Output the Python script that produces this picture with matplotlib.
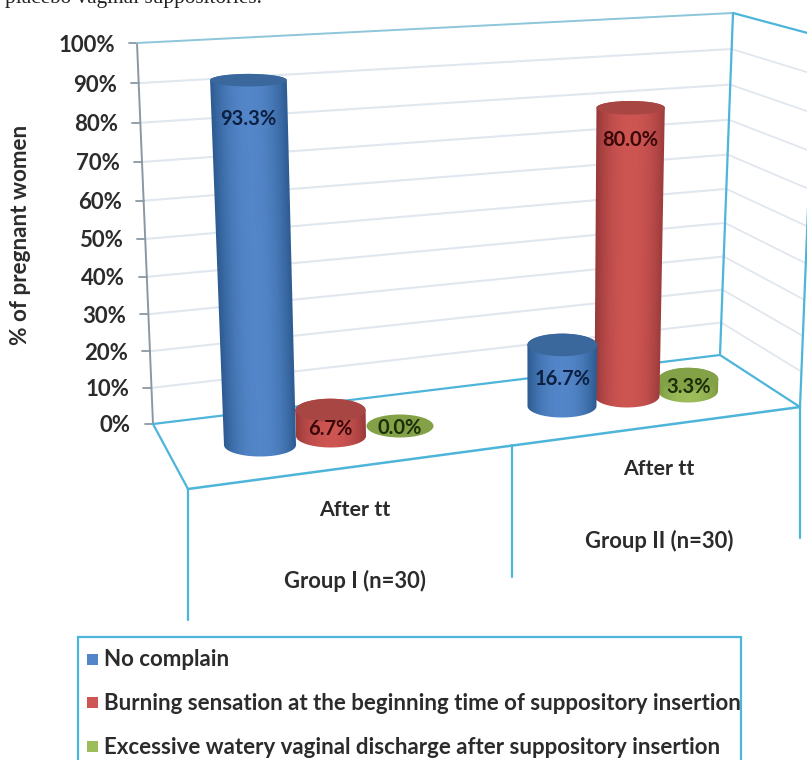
"""3D-style cylinder chart of complaints after treatment in two groups."""

import matplotlib

matplotlib.use("Agg")
import matplotlib.pyplot as plt
import numpy as np
from matplotlib.colors import LinearSegmentedColormap
from matplotlib.patches import Ellipse, Polygon, Rectangle

plt.rcParams["font.family"] = ["Lato", "DejaVu Sans"]

GROUPS = ["Group I (n=30)", "Group II (n=30)"]
TIMEPOINTS = ["After tt", "After tt"]
SERIES = [
    "No complain",
    "Burning sensation at the beginning time of suppository insertion",
    "Excessive watery vaginal discharge after suppository insertion",
]
NO_COMPLAIN = [93.3, 16.7]
BURNING = [6.7, 80.0]
DISCHARGE = [0.0, 3.3]
TICKS = [0, 10, 20, 30, 40, 50, 60, 70, 80, 90, 100]

WALL = "#4db4da"
GRID = "#e1e7ef"
TEXT = "#2b2b2b"

# back wall, floor and side wall corners in figure pixels
BACK_LEFT_TOP = (137, 43)
BACK_LEFT_BOT = (153, 424)
BACK_RIGHT_TOP = (733, 13)
BACK_RIGHT_BOT = (720, 355)
SIDE_TOP = (815, 35)
FRONT_RIGHT = (800, 407)
FRONT_LEFT = (188, 489)

# cylinder base centre (x, y), base x radius and label drop below the top centre
LAYOUT = {
    (0, 0): (260, 445, 36, 39),
    (0, 1): (331, 436, 35, 19),
    (0, 2): (400, 426, 33.5, 2),
    (1, 0): (562, 406, 34.5, 34),
    (1, 1): (627, 396, 32.5, 32),
    (1, 2): (688, 391, 30, 8),
}
PALETTE = [
    {"edge": "#2c5a90", "mid": "#5386c9", "top": "#3a689c", "label": "#0c1f40"},
    {"edge": "#99393a", "mid": "#cd5552", "top": "#a84644", "label": "#3a0808"},
    {"edge": "#7b983f", "mid": "#9dbd5b", "top": "#83a146", "label": "#1c2e08"},
]


def tick_frac(v):
    # the value axis opens up slightly towards the top
    t = v / 100.0
    return 0.944 * t / (1 - 0.056 * t)


def lerp(a, b, f):
    return (a[0] + (b[0] - a[0]) * f, a[1] + (b[1] - a[1]) * f)


def draw_line(ax, a, b, color=WALL, lw=1.6, z=2):
    ax.plot([a[0], b[0]], [a[1], b[1]], color=color, lw=lw, solid_capstyle="round", zorder=z)


def draw_cylinder(ax, value, base_x, base_y, rx, colors, z):
    # pixels per percent shrink towards the back right of the floor
    scale = 3.91 - (base_x - 260) * 0.31 / 370
    h = value * scale
    lean = -0.0446 + (base_x - 153) / 580 * 0.07
    top_x, top_y = base_x + lean * h, base_y - h
    top_rx = rx * (1 + 0.00018 * h)
    base_ry = min(11.5, 6.3 + (base_y - 80) * 5 / 265)
    top_ry = min(11.5, 6.3 + (top_y - 80) * 5 / 265)

    if h > 0:
        theta = np.linspace(0, np.pi, 60)
        lower_x = base_x - rx * np.cos(theta)
        lower_y = base_y + base_ry * np.sin(theta)
        upper_x = top_x + top_rx * np.cos(theta)
        upper_y = top_y - top_ry * np.sin(theta)
        outline = np.column_stack([np.r_[lower_x, upper_x], np.r_[lower_y, upper_y]])
        body = Polygon(outline, closed=True, transform=ax.transData, facecolor="none", edgecolor="none")
        ax.add_patch(body)

        x0, x1 = outline[:, 0].min() - 1, outline[:, 0].max() + 1
        y0, y1 = outline[:, 1].min() - 1, outline[:, 1].max() + 1
        xx, yy = np.meshgrid(np.arange(x0, x1, 0.5), np.arange(y0, y1, 0.5))
        f = np.clip((base_y - yy) / h, 0, 1)
        u = (xx - (base_x + (top_x - base_x) * f)) / (rx + (top_rx - rx) * f)
        cmap = LinearSegmentedColormap.from_list("body", [colors["mid"], colors["edge"]])
        img = ax.imshow(
            np.abs(u) ** 2.2,
            cmap=cmap,
            vmin=0,
            vmax=1,
            extent=(x0, x1, y1, y0),
            origin="upper",
            aspect="auto",
            interpolation="bilinear",
            zorder=z,
        )
        img.set_clip_path(body)

    ax.add_patch(
        Ellipse((top_x, top_y), 2 * top_rx, 2 * top_ry, facecolor=colors["top"], edgecolor="none", zorder=z + 0.1)
    )
    return top_x, top_y


fig = plt.figure(figsize=(8.07, 7.60), dpi=100, facecolor="white")
ax = fig.add_axes([0, 0, 1, 1])

# gridlines on the back wall and the side wall
for v in TICKS:
    f = tick_frac(v)
    left = lerp(BACK_LEFT_BOT, BACK_LEFT_TOP, f)
    right = lerp(BACK_RIGHT_BOT, BACK_RIGHT_TOP, f)
    side = lerp(FRONT_RIGHT, SIDE_TOP, f)
    if 0 < v < 100:
        draw_line(ax, left, right, color=GRID, lw=1.5, z=1)
        draw_line(ax, right, side, color=GRID, lw=1.3, z=1)
    draw_line(ax, (left[0] - 8, left[1]), left, color="#8b98a3", lw=1.3)
    ax.text(left[0] - 22, left[1] + 2, f"{v}%", ha="right", va="center", fontsize=16,
            fontweight="bold", color=TEXT)

# wall and floor outlines
draw_line(ax, BACK_LEFT_TOP, BACK_LEFT_BOT, color="#8b98a3", lw=1.4)
draw_line(ax, BACK_LEFT_TOP, BACK_RIGHT_TOP, color="#8ec6da", lw=1.4)
draw_line(ax, BACK_RIGHT_TOP, BACK_RIGHT_BOT)
draw_line(ax, BACK_RIGHT_TOP, SIDE_TOP)
draw_line(ax, BACK_LEFT_BOT, BACK_RIGHT_BOT)
draw_line(ax, BACK_LEFT_BOT, FRONT_LEFT)
draw_line(ax, BACK_RIGHT_BOT, FRONT_RIGHT)
draw_line(ax, FRONT_LEFT, FRONT_RIGHT, lw=1.8)
draw_line(ax, FRONT_RIGHT, SIDE_TOP)

# category dividers below the floor
draw_line(ax, FRONT_LEFT, (FRONT_LEFT[0], 620))
draw_line(ax, (512, 445), (512, 577))
draw_line(ax, FRONT_RIGHT, (FRONT_RIGHT[0], 538))

# back-most series first so nearer cylinders overlap the others
series_values = [NO_COMPLAIN, BURNING, DISCHARGE]
for g in range(len(GROUPS)):
    for s in (2, 1, 0):
        base_x, base_y, rx, drop = LAYOUT[(g, s)]
        value = series_values[s][g]
        z = 5 + (2 - s) + g * 4
        top_x, top_y = draw_cylinder(ax, value, base_x, base_y, rx, PALETTE[s], z)
        ax.text(top_x, top_y + drop, f"{value:.1f}%", ha="center", va="center", fontsize=14.5,
                fontweight="bold", color=PALETTE[s]["label"], zorder=20)

ax.text(21, 235, "% of pregnant women", rotation=90, ha="center", va="center", fontsize=16.2,
        fontweight="bold", color=TEXT)

for label, x, y in zip(TIMEPOINTS, (355, 659), (510, 469)):
    ax.text(x, y, label, ha="center", va="center", fontsize=15.4, fontweight="bold", color=TEXT)
for label, x, y in zip(GROUPS, (355, 659), (581, 541)):
    ax.text(x, y, label, ha="center", va="center", fontsize=15.8, fontweight="bold", color=TEXT)

# legend box runs off the bottom edge
ax.add_patch(Rectangle((78, 637), 663, 140, facecolor="white", edgecolor=WALL, lw=1.6, zorder=3))
for label, colors, y in zip(SERIES, PALETTE, (660, 703, 747)):
    ax.add_patch(Rectangle((87, y - 6), 11, 11, facecolor=colors["mid"], edgecolor="none", zorder=4))
    ax.text(104, y, label, ha="left", va="center", fontsize=16, fontweight="bold", color=TEXT, zorder=4)

# last line of the running text above the figure
ax.text(5, 3, "placebo vaginal suppositories.", ha="left", va="baseline", fontsize=15.3,
        family="Liberation Serif", color="#222222")

ax.set_xlim(0, 807)
ax.set_ylim(760, 0)
ax.axis("off")

fig.savefig("out.png", dpi=100)
